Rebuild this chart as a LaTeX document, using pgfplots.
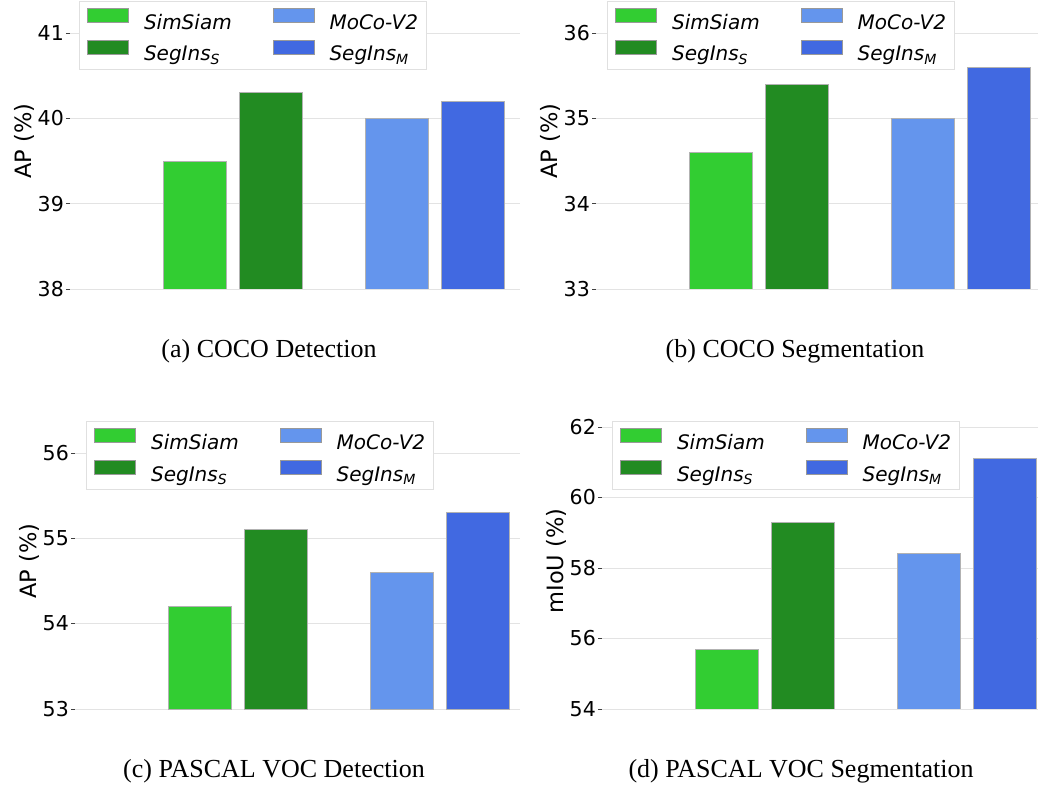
\documentclass[border=0pt]{standalone}
\usepackage{pgfplots}
\pgfplotsset{compat=1.18}
\usepackage{fontspec}
\setmainfont{DejaVu Sans}
\newfontfamily\capfont{Liberation Serif}
\definecolor{c1}{HTML}{32CD32}
\definecolor{c2}{HTML}{228B22}
\definecolor{c3}{HTML}{6495ED}
\definecolor{c4}{HTML}{4169E1}
\pgfplotsset{
 panel/.style={
  scale only axis, height=296pt, xmin=0,
  axis lines=left, axis line style={draw=none,-},
  ymajorgrids, grid style={color=black!11, line width=0.8pt},
  xtick=\empty, ytick pos=left, tick align=outside, major tick length=4pt,
  tick style={color=black!75, line width=0.8pt},
  tick label style={font=\fontsize{20.5}{24}\selectfont},
  /pgf/number format/assume math mode=true,
  yticklabel style={inner xsep=2pt},
  label style={font=\fontsize{22.5}{26}\selectfont},
  ylabel style={yshift=-2pt},
  legend columns=2, legend cell align=left,
  legend style={anchor=north west, font=\fontsize{20}{24}\selectfont\itshape,
    draw=black!12, fill=white, inner xsep=8pt, inner ysep=7pt,
    nodes={inner sep=0pt}, row sep=9pt,
    /tikz/every odd column/.append style={column sep=15pt},
    /tikz/every even column/.append style={column sep=41pt}},
  legend image code/.code={\draw[##1,draw=black!40,line width=0.8pt,sharp corners] (0pt,0pt) rectangle (41pt,14pt);},
 },
 bars/.style={ybar, bar width=63, bar shift=0pt, draw=black!30, line width=0.8pt, fill=#1},
}
\begin{document}
\begin{tikzpicture}
\useasboundingbox (0,0) rectangle (1038pt,784pt);
% (a)
\begin{axis}[panel, at={(70pt,495pt)}, anchor=south west, width=450pt, xmax=450,
  ymin=38, ymax=41.469, ytick={38,39,40,41}, ylabel={AP (\%)},
  legend style={at={(0.02,0.973)}}]
\addplot[bars=c1] coordinates {(125,39.5)};
\addplot[bars=c3] coordinates {(327,40.0)};
\addplot[bars=c2] coordinates {(201,40.3)};
\addplot[bars=c4] coordinates {(402.5,40.2)};
\legend{SimSiam, MoCo-V2, SegIns\textsubscript{S}, SegIns\textsubscript{M}}
\end{axis}
% (b)
\begin{axis}[panel, at={(596pt,495pt)}, anchor=south west, width=442pt, xmax=442,
  ymin=33, ymax=36.469, ytick={33,34,35,36}, ylabel={AP (\%)},
  legend style={at={(0.025,0.973)}}]
\addplot[bars=c1] coordinates {(125,34.6)};
\addplot[bars=c3] coordinates {(327,35.0)};
\addplot[bars=c2] coordinates {(201,35.4)};
\addplot[bars=c4] coordinates {(402.5,35.6)};
\legend{SimSiam, MoCo-V2, SegIns\textsubscript{S}, SegIns\textsubscript{M}}
\end{axis}
% (c)
\begin{axis}[panel, at={(75pt,75pt)}, anchor=south west, width=445pt, xmax=445,
  ymin=53, ymax=56.469, ytick={53,54,55,56}, ylabel={AP (\%)},
  legend style={at={(0.025,0.973)}}]
\addplot[bars=c1] coordinates {(125,54.2)};
\addplot[bars=c3] coordinates {(327,54.6)};
\addplot[bars=c2] coordinates {(201,55.1)};
\addplot[bars=c4] coordinates {(402.5,55.3)};
\legend{SimSiam, MoCo-V2, SegIns\textsubscript{S}, SegIns\textsubscript{M}}
\end{axis}
% (d)
\begin{axis}[panel, at={(602pt,75pt)}, anchor=south west, width=436pt, xmax=436,
  ymin=54, ymax=62.397, ytick={54,56,58,60,62}, ylabel={mIoU (\%)},
  legend style={at={(0.023,0.973)}}]
\addplot[bars=c1] coordinates {(125,55.7)};
\addplot[bars=c3] coordinates {(327,58.4)};
\addplot[bars=c2] coordinates {(201,59.3)};
\addplot[bars=c4] coordinates {(402.5,61.1)};
\legend{SimSiam, MoCo-V2, SegIns\textsubscript{S}, SegIns\textsubscript{M}}
\end{axis}
\begin{scope}[every node/.style={font=\capfont\fontsize{26}{30}\selectfont, anchor=base, inner sep=0pt}]
\node at (269pt,426pt) {(a) COCO Detection};
\node at (795pt,426pt) {(b) COCO Segmentation};
\node at (274pt,7pt) {(c) PASCAL VOC Detection};
\node at (801pt,7pt) {(d) PASCAL VOC Segmentation};
\end{scope}
\end{tikzpicture}
\end{document}
